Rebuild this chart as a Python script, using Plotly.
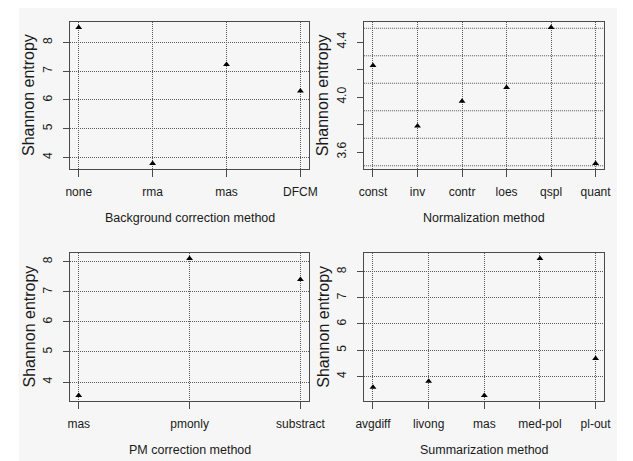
import plotly.graph_objects as go

# ---- data ----
bg_methods = ["none", "rma", "mas", "DFCM"]
bg_entropy = [8.52, 3.79, 7.23, 6.31]

norm_methods = ["const", "inv", "contr", "loes", "qspl", "quant"]
norm_entropy = [4.23, 3.79, 3.97, 4.07, 4.506, 3.516]

pm_methods = ["mas", "pmonly", "substract"]
pm_entropy = [3.55, 8.11, 7.41]

sum_methods = ["avgdiff", "livong", "mas", "med-pol", "pl-out"]
sum_entropy = [3.59, 3.81, 3.27, 8.50, 4.68]

panel_titles = ["Background correction method", "Normalization method",
                "PM correction method", "Summarization method"]
y_title = "Shannon entropy"

y_ticks = [[4, 5, 6, 7, 8], [3.6, 3.8, 4.0, 4.2, 4.4], [4, 5, 6, 7, 8], [4, 5, 6, 7, 8]]
y_ticktext = [["4", "5", "6", "7", "8"], ["3.6", "", "4.0", "", "4.4"],
              ["4", "5", "6", "7", "8"], ["4", "5", "6", "7", "8"]]
norm_grid = [3.5, 3.7, 3.9, 4.1, 4.3, 4.5]

# page has an 8px body margin: figure occupies page pixels 8..633 x 8..461
OFF = 8
W, H = 633 - OFF, 461 - OFF


def px(x):
    return (x - OFF) / W


def py(y):
    return 1 - (y - OFF) / H


panels = [
    (bg_methods, bg_entropy, (64, 313, 22, 169)),
    (norm_methods, norm_entropy, (370, 620, 22, 169)),
    (pm_methods, pm_entropy, (64, 313, 253, 401)),
    (sum_methods, sum_entropy, (370, 620, 253, 401)),
]

FONT = "Liberation Sans, Arial, sans-serif"
TXT = "#1a1a1a"
GRID = "#5a5a5a"
GDASH = "1px,1px"
fig = go.Figure()
annotations = []
shapes = [dict(type="rect", xref="paper", yref="paper", x0=px(11), x1=1, y0=0, y1=1,
               fillcolor="#f6f6f6", line=dict(width=0), layer="below")]

for i, (cats, vals, (l, r, t, b)) in enumerate(panels):
    n = i + 1
    xa = "xaxis" if n == 1 else f"xaxis{n}"
    ya = "yaxis" if n == 1 else f"yaxis{n}"
    xr = "x" if n == 1 else f"x{n}"
    yr = "y" if n == 1 else f"y{n}"
    fig.add_trace(go.Scatter(
        x=list(range(1, len(cats) + 1)), y=vals, mode="markers",
        marker=dict(symbol="triangle-up", size=6, color="black"),
        xaxis=xr, yaxis=yr, showlegend=False, hoverinfo="x+y"))
    k = len(cats)
    pad = 0.04 * (k - 1)
    lo, hi = min(vals), max(vals)
    ypad = 0.04 * (hi - lo)
    common = dict(showline=True, mirror=True, linecolor="#4a4a4a", linewidth=1.4,
                  ticks="outside", tickcolor="#4a4a4a", tickwidth=1,
                  tickfont=dict(family=FONT, size=12, color=TXT), zeroline=False)
    fig.update_layout(**{
        xa: dict(domain=[px(l), px(r)], anchor=yr, range=[1 - pad, k + pad],
                 tickvals=list(range(1, k + 1)), ticktext=cats, ticklen=7,
                 showgrid=True, gridcolor=GRID, griddash=GDASH, gridwidth=1,
                 ticklabelstandoff=4, **common),
        ya: dict(domain=[py(b), py(t)], anchor=xr, range=[lo - ypad, hi + ypad],
                 tickvals=y_ticks[i], ticktext=y_ticktext[i], tickangle=-90, ticklen=6,
                 showgrid=(n != 2), gridcolor=GRID, griddash=GDASH, gridwidth=1,
                 ticklabelstandoff=6, **common),
    })
    if n == 2:
        for g in norm_grid:
            shapes.append(dict(type="line", xref="x2 domain", yref="y2", x0=0, x1=1, y0=g, y1=g,
                               line=dict(color=GRID, width=1, dash=GDASH), layer="below"))
    annotations.append(dict(text=panel_titles[i], xref="paper", yref="paper",
                            x=px((l + r) / 2), y=py(b + 49), showarrow=False,
                            xanchor="center", yanchor="middle",
                            font=dict(family=FONT, size=12.5, color=TXT)))
    annotations.append(dict(text=y_title, xref="paper", yref="paper",
                            x=px(l - 43), y=py((t + b) / 2), showarrow=False,
                            textangle=-90, xanchor="center", yanchor="middle",
                            font=dict(family=FONT, size=16, color=TXT)))

fig.update_layout(width=W, height=H, margin=dict(l=0, r=0, t=0, b=0),
                  paper_bgcolor="white", plot_bgcolor="rgba(0,0,0,0)",
                  annotations=annotations, shapes=shapes)
fig.write_html("out.html")
